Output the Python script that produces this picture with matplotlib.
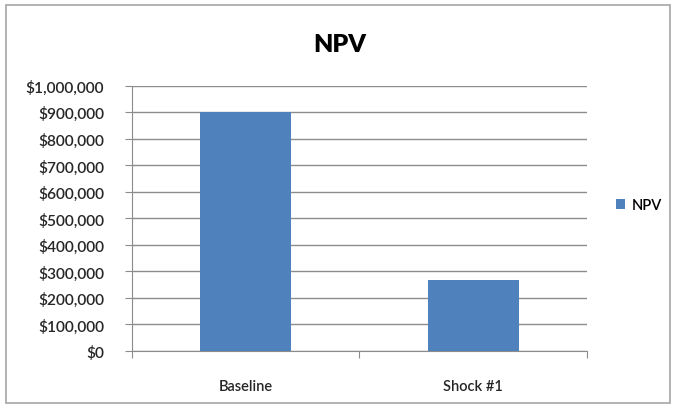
import matplotlib.pyplot as plt
from matplotlib.patches import Rectangle
from matplotlib.ticker import FuncFormatter

plt.rcParams['font.family'] = ['Lato', 'DejaVu Sans']

categories = ['Baseline', 'Shock #1']
npv = [900000, 266000]

fig = plt.figure(figsize=(6.76, 4.10), dpi=100)
ax = fig.add_axes([0.195, 0.1415, 0.673, 0.647])

# chart border like the excel chart area
fig.patches.append(Rectangle((0.009, 0.015), 0.982, 0.97, transform=fig.transFigure,
                             fill=False, edgecolor='#a6a6a6', linewidth=1.2))

x = range(len(categories))
ax.bar(x, npv, width=0.4, color='#4f81bd', label='NPV', zorder=3)

ax.set_xlim(-0.5, 1.5)
ax.set_ylim(0, 1000000)
ax.set_yticks(range(0, 1000001, 100000))
ax.yaxis.set_major_formatter(FuncFormatter(lambda v, p: '${:,.0f}'.format(v)))
ax.grid(axis='y', color='#8c8c8c', linewidth=1, zorder=0)

ax.set_xticks([-0.5, 0.5, 1.5])
ax.set_xticklabels([])
ax.set_xticks(list(x), minor=True)
ax.set_xticklabels(categories, minor=True)
ax.tick_params(axis='x', which='minor', length=0, pad=20, labelsize=10.5,
               labelcolor='#262626')
ax.tick_params(axis='x', which='major', length=5, color='#8c8c8c')
ax.tick_params(axis='y', length=5, color='#8c8c8c', labelsize=11.2, pad=15,
               labelcolor='#262626')
for lbl in ax.get_yticklabels() + ax.get_xticklabels(minor=True):
    lbl.set_fontweight('semibold')

for s in ['top', 'right']:
    ax.spines[s].set_visible(False)
for s in ['left', 'bottom']:
    ax.spines[s].set_color('#8c8c8c')

fig.text(0.503, 0.89, 'NPV', ha='center', va='center', fontsize=18, fontweight='heavy')

leg = ax.legend(loc='center left', bbox_to_anchor=(1.035, 0.55), frameon=False,
                handlelength=0.6, handleheight=0.6, handletextpad=0.5,
                prop={'size': 10.5, 'weight': 'semibold'})

fig.savefig('out.png', dpi=100)
